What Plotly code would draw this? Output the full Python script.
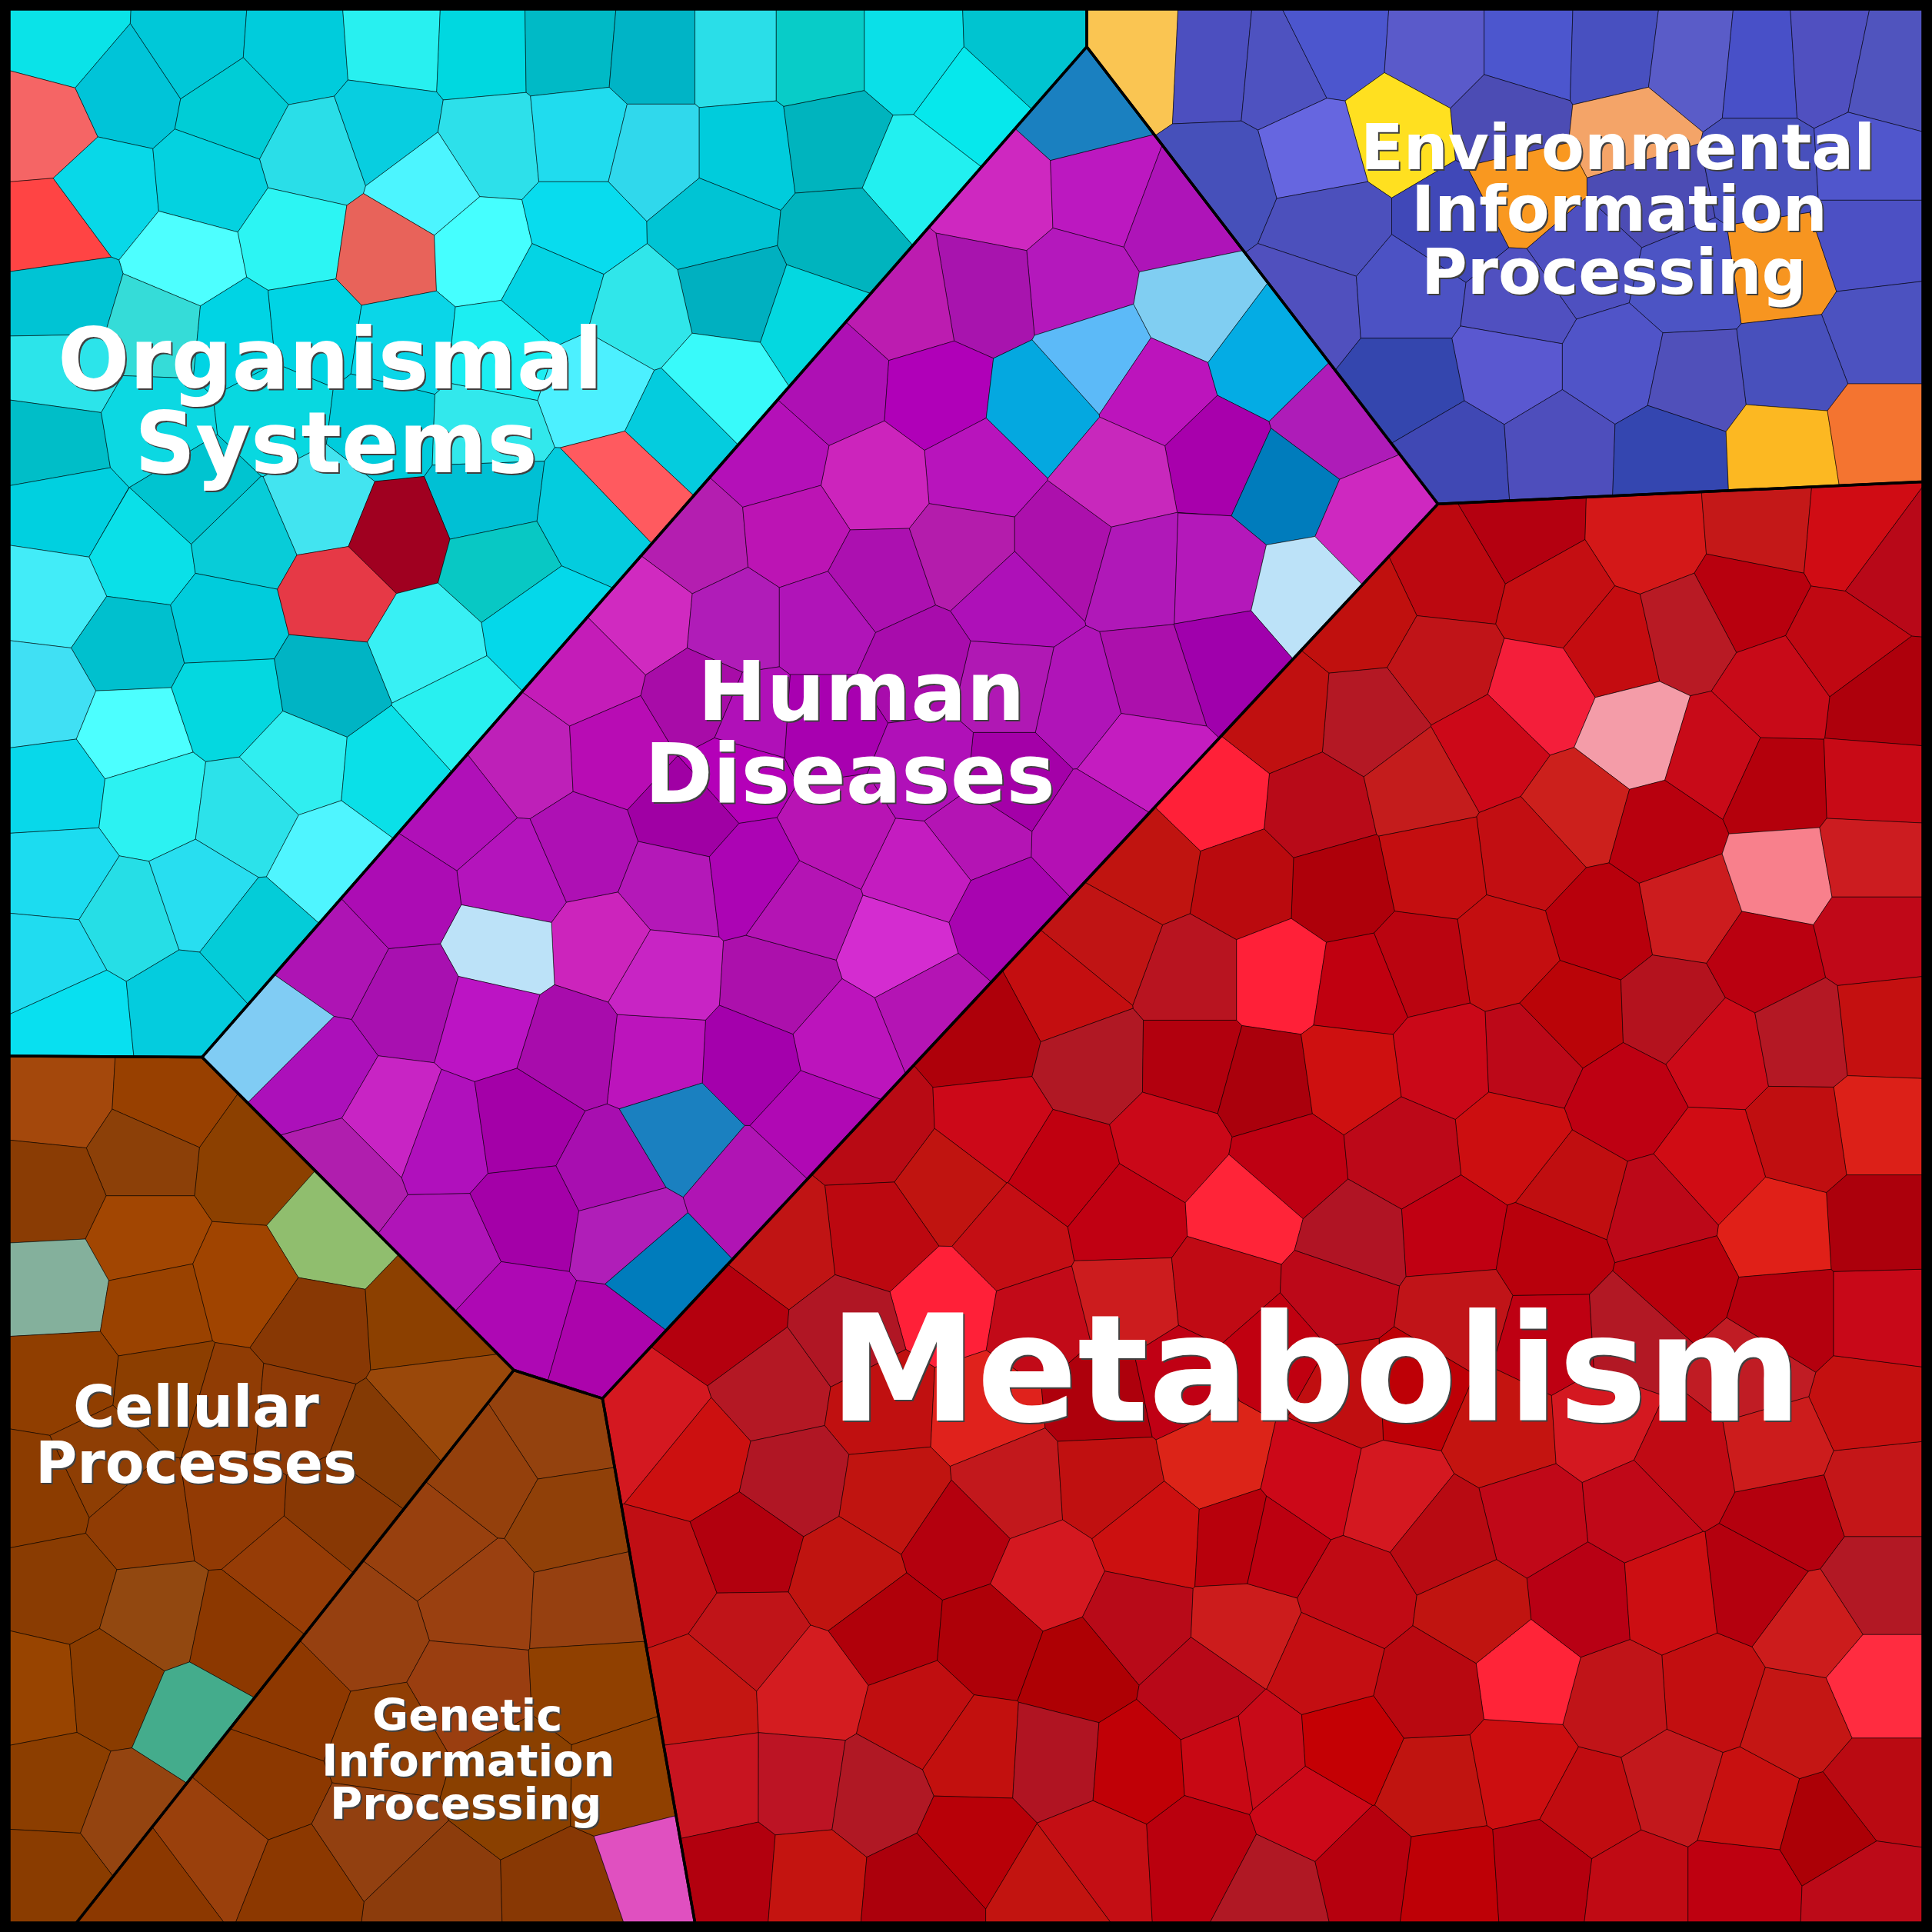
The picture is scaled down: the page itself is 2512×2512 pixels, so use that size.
import plotly.graph_objects as go

# Voronoi treemap: every group is a convex region split into cells around seed points.
# Coordinates on a 0-1568 scale.

ORGANISMAL_REGION = [(7.5, 7.5), (882, 7.5), (882, 38), (164, 858), (7.5, 857)]
ENVIRONMENTAL_REGION = [(882, 7.5), (1560.5, 7.5), (1560.5, 391), (1167, 409), (882, 38)]
HUMAN_REGION = [(882, 38), (1167, 409), (489, 1135), (417, 1112), (164, 858)]
METABOLISM_REGION = [(1167, 409), (1560.5, 391), (1560.5, 1560.5), (564, 1560.5), (489, 1135)]
CELLULAR_REGION = [(7.5, 857), (164, 858), (417, 1112), (62, 1560.5), (7.5, 1560.5)]
GENETIC_REGION = [(417, 1112), (489, 1135), (564, 1560.5), (62, 1560.5)]

ORGANISMAL_CELLS = [
    (54, 31, "#0AE3E8"), (156, 36, "#00C8D8"), (240, 42, "#00CCDC"), (321, 36, "#28F0F0"),
    (391, 39, "#00D8E0"), (462, 38, "#00BAC6"), (532, 44, "#00B4C6"), (596, 44, "#2ADEE8"),
    (664, 44, "#08CCC8"), (739, 44, "#0AE0E8"), (826, 41, "#00C4D0"), (35, 103, "#F56565"),
    (102, 72, "#00C4D8"), (191, 89, "#00CDD6"), (255, 123, "#2ADEE8"), (312, 103, "#08CEE0"),
    (398, 117, "#2DE0EA"), (470, 110, "#20DCEE"), (42, 187, "#FF4444"), (84, 156, "#08D8E8"),
    (170, 148, "#04D2E0"), (347, 150, "#4CF5FF"), (532, 125, "#30D8EC"), (603, 125, "#00CCDC"),
    (678, 115, "#00B4BE"), (742, 142, "#22F0F0"), (789, 81, "#06E8EC"), (153, 212, "#4DFFFF"),
    (239, 195, "#2CF5F3"), (314, 206, "#E8635A"), (392, 203, "#45FFFF"), (470, 185, "#08DCEE"),
    (580, 183, "#00C4D4"), (684, 193, "#00B4BE"), (449, 234, "#04D4E4"), (593, 237, "#00B0C0"),
    (661, 260, "#04D8E0"), (519, 254, "#30E6EA"), (50, 243, "#00C4D4"), (130, 267, "#35DCD8"),
    (191, 273, "#00D4E4"), (251, 267, "#00D4E4"), (328, 279, "#0AD6E8"), (404, 287, "#1CEEF2"),
    (485, 314, "#4CF0FF"), (583, 311, "#38FAFA"), (51, 301, "#2CE4EA"), (43, 359, "#00BEC8"),
    (127, 345, "#0CD8E2"), (223, 334, "#08D8E0"), (312, 345, "#00CCDC"), (392, 348, "#32E8EC"),
    (549, 345, "#04CCDE"), (505, 392, "#FF5A5F"), (394, 404, "#00C0D4"), (262, 410, "#42E4F0"),
    (160, 400, "#00C4D0"), (53, 415, "#00D0E0"), (114, 450, "#0AE0E8"), (197, 438, "#08CCD8"),
    (321, 434, "#A00020"), (405, 457, "#08C8C4"), (481, 415, "#04CCDE"), (43, 482, "#42ECF8"),
    (104, 524, "#00C0CE"), (184, 505, "#00CCDC"), (274, 482, "#E63946"), (344, 524, "#38F0F4"),
    (441, 508, "#04D8EA"), (33, 565, "#40E0F4"), (107, 595, "#4CFFFF"), (187, 568, "#04D8E0"),
    (267, 555, "#00B4C4"), (371, 578, "#28F0F0"), (43, 641, "#08D8EA"), (124, 651, "#2CF2F2"),
    (200, 661, "#2CE2EA"), (241, 619, "#30EEF0"), (318, 626, "#0AE0E8"), (47, 707, "#1CDCF0"),
    (107, 745, "#26DEE6"), (160, 727, "#28DEF0"), (267, 696, "#4FF5FF"), (207, 764, "#04CCD8"),
    (40, 782, "#20DCF0"), (60, 826, "#08E0F0"), (150, 817, "#04CCDE"),
]

ENVIRONMENTAL_CELLS = [
    (923, 49, "#FAC552"), (985, 52, "#4C4FBF"), (1038, 57, "#4E52C0"), (1082, 35, "#4C56CE"),
    (1168, 41, "#5A5ACA"), (1241, 41, "#4C56CE"), (1310, 43, "#4850C0"), (1372, 51, "#5A5CC8"),
    (1432, 57, "#4850C8"), (1480, 54, "#5050C0"), (1533, 65, "#5054BE"), (1133, 106, "#FFE020"),
    (1069, 124, "#6666E0"), (989, 146, "#4650BA"), (1224, 97, "#4C4CB4"), (1325, 108, "#F4A468"),
    (1237, 154, "#F99820"), (1445, 219, "#F79520"), (1080, 184, "#4C50BC"), (1179, 184, "#4048B8"),
    (1060, 244, "#5050BE"), (1144, 238, "#4C52C4"), (1339, 154, "#4C4CB4"), (1432, 135, "#4850BC"),
    (1516, 130, "#5056CC"), (1516, 195, "#4C50C4"), (1286, 211, "#4E50C0"), (1370, 230, "#4C54C4"),
    (1525, 271, "#4C52C0"), (1232, 249, "#5050C0"), (1224, 295, "#5A58D0"), (1312, 295, "#5054C8"),
    (1374, 308, "#5050BA"), (1454, 298, "#4850BC"), (1144, 311, "#3446AE"), (1179, 371, "#4048B4"),
    (1266, 365, "#4E4EBC"), (1354, 368, "#3446B0"), (1449, 364, "#FCB822"), (1525, 352, "#F47430"),
]

HUMAN_CELLS = [
    (877, 88, "#1A80C0"), (813, 159, "#CE28C0"), (894, 156, "#BC18C0"), (955, 179, "#AE14B8"),
    (874, 230, "#B418BC"), (798, 237, "#A814AE"), (739, 247, "#BC1CB0"), (678, 315, "#AE10B4"),
    (761, 321, "#B000B8"), (843, 331, "#04A8E0"), (892, 287, "#5CBAF8"), (969, 247, "#80CEF2"),
    (938, 318, "#BC14BC"), (1029, 292, "#04ACE4"), (989, 371, "#A800AC"), (1080, 344, "#AE1CB8"),
    (1042, 395, "#007CBC"), (1114, 426, "#CE28C0"), (793, 382, "#B814BC"), (711, 389, "#CC24BC"),
    (627, 372, "#B410B8"), (566, 440, "#B41EB0"), (644, 433, "#BC14B4"), (713, 470, "#AC10B0"),
    (783, 446, "#B41CAC"), (864, 446, "#AC10AC"), (908, 386, "#C828BC"), (925, 463, "#B018B8"),
    (984, 465, "#B418BA"), (1057, 482, "#BCE2F8"), (996, 535, "#A000AC"), (934, 555, "#AC10AC"),
    (926, 609, "#C41CC0"), (877, 570, "#B014B8"), (822, 488, "#AE10B8"), (817, 557, "#B018B4"),
    (817, 632, "#A400A8"), (885, 677, "#B410B4"), (790, 674, "#B414B4"), (817, 743, "#A804B0"),
    (748, 707, "#C41CC0"), (728, 770, "#D42CD0"), (753, 817, "#B414B4"), (633, 800, "#AC10AC"),
    (650, 738, "#B414B4"), (680, 674, "#B814B4"), (684, 845, "#BC14BC"), (523, 498, "#D02AC0"),
    (597, 505, "#B01CB8"), (668, 505, "#B014B8"), (745, 540, "#A80CAC"), (569, 569, "#A80CA8"),
    (474, 547, "#C41CB8"), (426, 614, "#BE20B8"), (501, 610, "#B80CB4"), (557, 662, "#A000A4"),
    (598, 625, "#B400B8"), (668, 590, "#A800B0"), (609, 586, "#B010B8"), (756, 626, "#B010B8"),
    (370, 658, "#B010B8"), (419, 714, "#B414BC"), (474, 690, "#AE10B4"), (545, 718, "#B418B8"),
    (611, 710, "#AC04B4"), (609, 861, "#A400AC"), (533, 857, "#BC14BC"), (537, 794, "#C824C4"),
    (489, 766, "#CC24BC"), (408, 770, "#BCE2F8"), (334, 811, "#A810B0"), (271, 778, "#AE14B4"),
    (326, 726, "#AC0CB4"), (227, 841, "#80CCF4"), (255, 869, "#AC10BA"), (322, 908, "#C824C4"),
    (395, 828, "#BC14C4"), (462, 849, "#A80CAC"), (360, 922, "#B010BC"), (422, 913, "#A400A8"),
    (495, 952, "#A80EB0"), (552, 918, "#1A80C0"), (278, 952, "#B01EAE"), (362, 1016, "#B014B8"),
    (430, 985, "#A400A8"), (507, 997, "#B01EB8"), (608, 966, "#B014B4"), (661, 909, "#B008B4"),
    (538, 1033, "#007CBC"), (418, 1068, "#AE08B4"), (495, 1090, "#AC04AC"),
]

METABOLISM_CELLS = [
    (1234, 433, "#B40010"), (1339, 436, "#D41818"), (1428, 429, "#C41818"), (1506, 436, "#D00C14"),
    (1537, 459, "#B80818"), (1180, 465, "#BC0810"), (1263, 485, "#C40E12"), (1417, 485, "#B8000E"),
    (1493, 524, "#C00812"), (1527, 570, "#AE000C"), (1104, 501, "#C0100E"), (1172, 540, "#C01418"),
    (1310, 524, "#C40C10"), (1368, 511, "#B81A24"), (1250, 563, "#F41E3A"), (1443, 560, "#C80A18"),
    (1328, 596, "#F49CA8"), (1112, 586, "#B41824"), (1039, 580, "#C01010"), (1208, 606, "#CC0818"),
    (1391, 615, "#C80A18"), (1522, 635, "#C80A16"), (1441, 638, "#B4000C"), (986, 648, "#FF2038"),
    (1070, 656, "#B80A18"), (1151, 638, "#C41C1C"), (1281, 658, "#CC201C"), (1349, 677, "#B8000E"),
    (1242, 694, "#C20E12"), (1164, 704, "#C40E10"), (1088, 720, "#AE000A"), (1010, 717, "#BA0A0E"),
    (932, 704, "#C01410"), (1370, 736, "#CC1C1E"), (1446, 710, "#F8808C"), (1519, 697, "#CC1C20"),
    (1300, 749, "#B8000C"), (1221, 772, "#C40E10"), (1154, 782, "#BA0410"), (1039, 792, "#FF2038"),
    (1104, 802, "#C00010"), (968, 792, "#B81420"), (898, 766, "#C01414"), (866, 805, "#C40E10"),
    (799, 841, "#AE000A"), (887, 863, "#B01824"), (968, 864, "#B2000E"), (1026, 880, "#AA000C"),
    (1096, 870, "#CE1010"), (1172, 860, "#CA0818"), (1242, 857, "#BC0818"), (1276, 824, "#BA0408"),
    (1357, 821, "#B4121E"), (1433, 779, "#BA0010"), (1519, 759, "#C00818"), (1394, 854, "#CC0A18"),
    (1464, 841, "#B41824"), (1527, 834, "#C41010"), (1320, 893, "#BE0012"), (710, 918, "#B80A14"),
    (807, 914, "#CC0818"), (864, 949, "#C00010"), (950, 927, "#CA0818"), (1045, 945, "#BE0012"),
    (1012, 983, "#FF2438"), (770, 963, "#C01410"), (714, 1002, "#BC0810"), (821, 1007, "#C40E14"),
    (913, 989, "#C00012"), (635, 1011, "#C01414"), (589, 1073, "#B4000E"), (768, 1060, "#FF2038"),
    (689, 1082, "#B01624"), (843, 1073, "#C20A18"), (915, 1055, "#CC1C1E"), (993, 1047, "#C00A14"),
    (628, 1126, "#B41824"), (718, 1140, "#C01010"), (796, 1144, "#E0221C"), (897, 1135, "#AE000C"),
    (957, 1122, "#C00014"), (531, 1157, "#D41820"), (564, 1184, "#CC1010"), (644, 1202, "#B01624"),
    (725, 1215, "#C01410"), (821, 1206, "#C2181C"), (900, 1201, "#C01010"), (986, 1184, "#DC2418"),
    (538, 1281, "#C00E14"), (607, 1255, "#B2000E"), (687, 1277, "#C01410"), (777, 1250, "#B4000E"),
    (848, 1281, "#D41820"), (936, 1246, "#CC1010"), (1008, 1250, "#B8000C"), (608, 1330, "#C01418"),
    (721, 1323, "#B0000A"), (804, 1330, "#AE0008"), (922, 1317, "#B80A18"), (875, 1356, "#AE0004"),
    (1012, 1321, "#CC1C1C"), (975, 1374, "#B80818"), (571, 1374, "#C41612"), (657, 1370, "#D41C20"),
    (746, 1392, "#C00E10"), (791, 1423, "#C2100E"), (857, 1427, "#B01422"), (922, 1432, "#C00006"),
    (997, 1427, "#C80814"), (581, 1449, "#C81420"), (650, 1449, "#BC1424"), (710, 1458, "#B01824"),
    (789, 1494, "#B80008"), (889, 1507, "#C40E14"), (975, 1502, "#BA000E"), (596, 1520, "#B2000E"),
    (657, 1525, "#C41410"), (746, 1533, "#AC000C"), (854, 1533, "#C21410"), (1034, 1533, "#B01824"),
    (1107, 1516, "#B6000E"), (1063, 1471, "#CC0818"), (1023, 1423, "#C80A18"), (1094, 1418, "#C40004"),
    (1165, 1449, "#C01410"), (1234, 1436, "#CC0E10"), (1176, 1525, "#BE0006"), (1252, 1520, "#B4000E"),
    (1292, 1467, "#C00C10"), (1357, 1449, "#C2181C"), (1419, 1467, "#C81010"), (1328, 1529, "#C00A14"),
    (1412, 1529, "#BE0010"), (1484, 1485, "#AC0006"), (1524, 1454, "#BA0A12"), (1513, 1533, "#BC0A18"),
    (1524, 1367, "#FF2C40"), (1457, 1396, "#C41614"), (1524, 1286, "#B21824"), (1470, 1321, "#CC1C1C"),
    (1388, 1374, "#C20E10"), (1314, 1379, "#C01418"), (1239, 1359, "#FF2438"), (1285, 1299, "#B80014"),
    (1356, 1294, "#CC0E12"), (1423, 1286, "#B4000E"), (1452, 1232, "#B4000E"), (1524, 1208, "#C41618"),
    (1517, 1140, "#C41010"), (1526, 1069, "#C80818"), (1524, 993, "#AC000C"), (1524, 914, "#DC2018"),
    (1444, 998, "#E02018"), (1463, 923, "#C00E10"), (1390, 945, "#D00C14"), (1346, 985, "#BC0818"),
    (1278, 967, "#C00E10"), (1227, 927, "#CC0E10"), (1140, 936, "#BC0818"), (1178, 1002, "#C00012"),
    (1100, 1007, "#B01424"), (1258, 1016, "#B8000C"), (1361, 1042, "#B8000C"), (1450, 1069, "#B4000E"),
    (1085, 1051, "#BC0818"), (1183, 1064, "#C01418"), (1259, 1086, "#BE0012"), (1325, 1082, "#B21824"),
    (1423, 1113, "#C01C24"), (1035, 1095, "#C00010"), (1145, 1128, "#BE0006"), (1097, 1130, "#C00E10"),
    (1067, 1202, "#CC0818"), (1129, 1215, "#D41820"), (1223, 1162, "#C41410"), (1299, 1157, "#D41820"),
    (1365, 1188, "#C00A14"), (1441, 1175, "#CC1C1C"), (1245, 1232, "#C00818"), (1328, 1224, "#C00818"),
    (1172, 1250, "#B80A12"), (1100, 1295, "#C00A14"), (1031, 1255, "#BC0010"), (1198, 1308, "#C01410"),
    (1161, 1370, "#B80810"), (1076, 1350, "#C40E12"),
]

CELLULAR_CELLS = [
    (48, 890, "#A4480C"), (135, 895, "#984000"), (117, 936, "#8C4008"), (40, 968, "#8A3C04"),
    (205, 945, "#8C4000"), (117, 1005, "#A24602"), (267, 1000, "#90BE6E"), (44, 1046, "#84B09C"),
    (128, 1060, "#9A4200"), (198, 1042, "#A04400"), (253, 1080, "#883804"), (344, 1074, "#8C4000"),
    (352, 1138, "#9A480A"), (48, 1119, "#903E00"), (139, 1129, "#8C3E00"), (183, 1142, "#903C04"),
    (238, 1147, "#8E3A06"), (311, 1175, "#843A04"), (275, 1225, "#883804"), (33, 1211, "#8C3C00"),
    (81, 1188, "#8E3E04"), (117, 1230, "#903C04"), (187, 1220, "#923A04"), (234, 1275, "#963C06"),
    (48, 1289, "#8A3C02"), (126, 1312, "#924810"), (194, 1326, "#8C3800"), (29, 1372, "#984400"),
    (90, 1367, "#8A3C00"), (156, 1395, "#44AC8C"), (44, 1450, "#8C3E00"), (106, 1473, "#944410"),
    (40, 1523, "#8A3C00"),
]

GENETIC_CELLS = [
    (450, 1161, "#94420E"), (395, 1197, "#94400C"), (461, 1234, "#904008"), (352, 1252, "#98400E"),
    (388, 1298, "#9A4010"), (476, 1303, "#964010"), (297, 1326, "#964010"), (381, 1372, "#9A3E10"),
    (480, 1367, "#904000"), (238, 1385, "#8E3800"), (311, 1413, "#903E04"), (421, 1445, "#8A4000"),
    (506, 1446, "#904000"), (216, 1449, "#8C3800"), (174, 1500, "#9A400C"), (300, 1491, "#924010"),
    (348, 1541, "#8C3C0C"), (466, 1538, "#883804"), (524, 1518, "#E050C0"), (245, 1528, "#8C3800"),
    (126, 1536, "#8C3800"),
]

GROUPS = [
    (ORGANISMAL_REGION, ORGANISMAL_CELLS),
    (ENVIRONMENTAL_REGION, ENVIRONMENTAL_CELLS),
    (HUMAN_REGION, HUMAN_CELLS),
    (METABOLISM_REGION, METABOLISM_CELLS),
    (CELLULAR_REGION, CELLULAR_CELLS),
    (GENETIC_REGION, GENETIC_CELLS),
]

# text, centre x, baseline y, font px
LABELS = [
    ("Organismal", 268, 316, 110), ("Systems", 273, 384, 110),
    ("Human", 699, 585, 107), ("Diseases", 690, 652, 107),
    ("Metabolism", 1068, 1155, 193),
    ("Environmental", 1313, 138, 81.5), ("Information", 1314, 188, 81.5), ("Processing", 1310, 239, 81.5),
    ("Cellular", 159, 1158, 74), ("Processes", 159, 1204, 74),
    ("Genetic", 379, 1405, 57.5), ("Information", 380, 1442, 57.5), ("Processing", 378, 1477, 57.5),
]


def clip_halfplane(poly, site, other):
    # keep the part of poly that is nearer to site than to other
    mx, my = (site[0] + other[0]) / 2, (site[1] + other[1]) / 2
    nx, ny = other[0] - site[0], other[1] - site[1]
    out = []
    for i, p in enumerate(poly):
        q = poly[(i + 1) % len(poly)]
        dp = (p[0] - mx) * nx + (p[1] - my) * ny
        dq = (q[0] - mx) * nx + (q[1] - my) * ny
        if dp <= 0:
            out.append(p)
        if dp * dq < 0:
            t = dp / (dp - dq)
            out.append((p[0] + t * (q[0] - p[0]), p[1] + t * (q[1] - p[1])))
    return out


def voronoi_cell(region, cells, index):
    poly = list(region)
    site = cells[index][:2]
    for j, other in enumerate(cells):
        if j != index and poly:
            poly = clip_halfplane(poly, site, other[:2])
    return poly


fig = go.Figure()

for region, cells in GROUPS:
    for i, cell in enumerate(cells):
        poly = voronoi_cell(region, cells, i)
        if not poly:
            continue
        xs = [p[0] for p in poly] + [poly[0][0]]
        ys = [p[1] for p in poly] + [poly[0][1]]
        fig.add_trace(go.Scatter(x=xs, y=ys, mode="lines", fill="toself", fillcolor=cell[2],
                                 line=dict(color="rgba(0,0,0,0.65)", width=0.8), hoverinfo="skip"))

# heavier outlines between the groups
for region, cells in GROUPS:
    xs = [p[0] for p in region] + [region[0][0]]
    ys = [p[1] for p in region] + [region[0][1]]
    fig.add_trace(go.Scatter(x=xs, y=ys, mode="lines", line=dict(color="black", width=3.5),
                             hoverinfo="skip"))

for text, x, baseline, size in LABELS:
    fig.add_annotation(x=x, y=baseline - 0.36 * size * 0.624, text="<b>%s</b>" % text, showarrow=False,
                       xanchor="center", yanchor="middle",
                       font=dict(family="DejaVu Sans", size=size, color="white",
                                 shadow="2px 2px 0px #404040"))

fig.update_xaxes(range=[0, 1568], visible=False, fixedrange=True)
fig.update_yaxes(range=[1568, 0], visible=False, fixedrange=True)
fig.update_layout(width=2512, height=2512, margin=dict(l=0, r=0, t=0, b=0), showlegend=False,
                  paper_bgcolor="black", plot_bgcolor="black")

fig.write_html("out.html", config={"displayModeBar": False},
               post_script="document.body.style.margin='0';")
